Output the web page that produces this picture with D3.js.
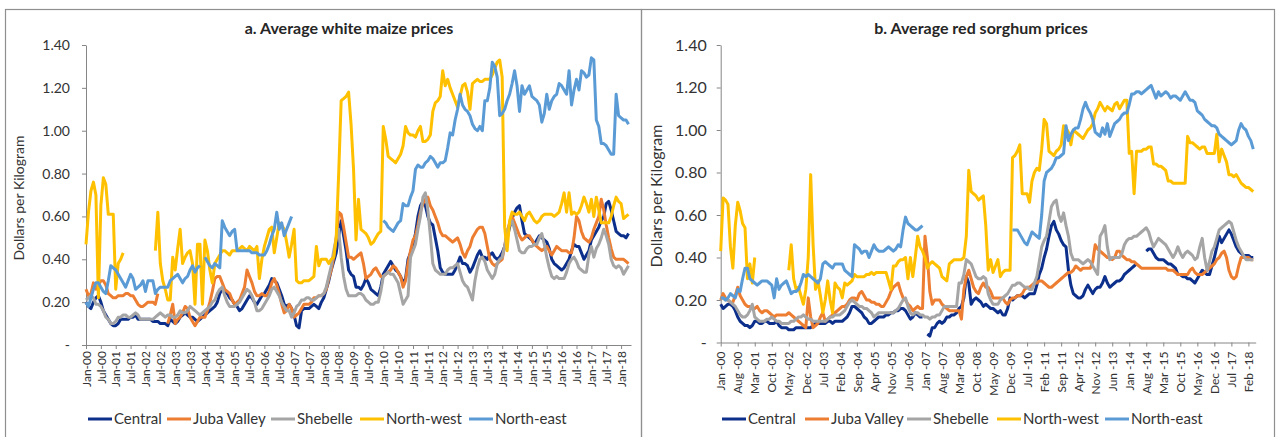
<!DOCTYPE html>
<html>
<head>
<meta charset="utf-8">
<script src="https://cdn.jsdelivr.net/npm/d3@7"></script>
<style>
  body { margin: 0; background: #fff; }
  svg { display: block; font-family: Lato, "Noto Sans", sans-serif; }
</style>
</head>
<body>
<div id="chart"></div>
<script>
// monthly values, Jan 2000 .. Apr 2018 (12 per row), null = no data
var maizeCentral = [
  .20,.18,.17,.20,.22,.23,.20,.16,.14,.12,.10,.09,
  .09,.10,.12,.12,.12,.12,.13,.13,.14,.12,.12,.12,
  .12,.12,.12,.11,.11,.11,.10,.10,.10,.09,.12,.11,
  .10,.11,.13,.14,.15,.14,.13,.13,.12,.11,.12,.13,
  .14,.15,.16,.17,.18,.20,.24,.26,.25,.24,.22,.21,
  .19,.18,.16,.17,.19,.21,.23,.22,.20,.19,.21,.23,
  .24,.26,.28,.31,.30,.29,.26,.23,.19,.18,.19,.17,
  .14,.09,.08,.16,.17,.17,.17,.18,.19,.18,.17,.20,
  .22,.26,.30,.35,.39,.43,.51,.58,.51,.44,.35,.33,
  .32,.27,.27,.26,.28,.31,.29,.26,.25,.24,.23,.27,
  .33,.35,.37,.39,.37,.35,.34,.32,.29,.31,.40,.43,
  .47,.52,.60,.65,.67,.65,.60,.57,.56,.50,.44,.36,
  .34,.33,.33,.33,.33,.35,.38,.41,.38,.38,.37,.34,
  .36,.39,.42,.44,.41,.41,.40,.42,.43,.41,.40,.41,
  .43,.46,.50,.55,.59,.62,.64,.65,.58,.52,.51,.50,
  .49,.47,.49,.51,.50,.49,.48,.45,.40,.38,.37,.36,
  .35,.36,.38,.40,.44,.47,.46,.46,.43,.40,.42,.44,
  .49,.51,.53,.55,.58,.60,.66,.67,.63,.58,.53,.52,
  .51,.51,.50,.52
];
var maizeJuba = [
  .26,.23,.24,.29,.26,.28,.30,.30,.28,.24,.23,.22,
  .22,.23,.23,.23,.24,.24,.23,.23,.21,.19,.18,.18,
  .19,.20,.20,.20,.19,.24,null,null,null,.10,.14,.19,
  .10,.12,.13,.15,.18,.17,.13,.11,.09,.11,.13,.13,
  .13,.16,.20,.25,.31,.32,.32,.29,.26,.25,.24,.21,
  .19,.20,.21,.24,.27,.35,.32,.29,.25,.23,.23,.24,
  .23,.23,.25,.29,.31,.28,.24,.19,.15,.16,.19,.17,
  .13,.14,.15,.17,.19,.19,.19,.20,.22,.22,.23,.23,
  .24,.26,.31,.35,.41,.50,.62,.61,.55,.48,.41,.41,
  .40,.41,.42,.43,.38,.31,.32,.33,.35,.36,.34,.32,
  .32,.33,.34,.35,.37,.36,.34,.32,.27,.30,.38,.44,
  .49,.51,.56,.62,.66,.68,.69,.65,.63,.60,.57,.53,
  .51,.51,.50,.49,.48,.49,.50,.47,.43,.41,.44,.46,
  .50,.52,.54,.55,.55,.52,.46,.40,.38,.37,.38,.39,
  .40,.46,.53,.57,.60,.57,.54,.51,.49,.50,.51,.51,
  .49,.47,.46,.45,.44,.45,.46,.44,.42,.44,.46,.45,
  .44,.44,.44,.43,.43,.50,.60,.58,.53,.50,.49,.48,
  .50,.54,.57,.60,.68,.63,.56,.50,.45,.41,.40,.40,
  .40,.40,.39,.38
];
var maizeShebelle = [
  .21,.22,.23,.22,.19,.19,.18,.16,.13,.12,.10,.10,
  .11,.13,.13,.14,.14,.13,.13,.14,.15,.14,.12,.12,
  .12,.12,.12,.12,.13,.14,.15,.14,.13,.14,.14,.13,
  .13,.14,.16,.15,.15,.16,.18,.17,.16,.15,.14,.15,
  .16,.17,.18,.20,.21,.24,.26,.27,.23,.20,.18,.18,
  .18,.19,.20,.22,.24,.26,.25,.23,.20,.16,.16,.17,
  .19,.21,.23,.26,.27,.25,.23,.20,.18,.16,.16,.13,
  .15,.18,.19,.21,.21,.22,.22,.21,.21,.22,.23,.23,
  .24,.27,.32,.37,.44,.50,.54,.41,.32,.26,.23,.23,
  .23,.23,.24,.24,.23,.21,.20,.19,.19,.20,.20,.25,
  .32,.33,.34,.33,.33,.31,.29,.24,.19,.21,.23,.41,
  .44,.47,.54,.60,.69,.71,.63,.51,.38,.35,.34,.33,
  .33,.33,.35,.36,.36,.37,.38,.34,.30,.28,.27,.24,
  .21,.30,.36,.40,.41,.39,.35,.33,.31,.33,.38,.40,
  .41,.46,.53,.56,.58,.54,.49,.44,.43,.43,.45,.46,
  .46,.47,.47,.50,.52,.47,.41,.36,.32,.31,.32,.31,
  .31,.31,.34,.38,.40,.41,.39,.36,.35,.34,.34,.42,
  .46,.41,.45,.47,.50,.54,.51,.47,.40,.37,.36,.37,
  .36,.33,.35,.37
];
var maizeNorthWest = [
  .47,.62,.72,.76,.70,.22,.65,.78,.75,.61,.61,.61,
  .26,.38,.40,.43,null,null,null,null,null,null,null,null,
  null,null,null,null,.44,.62,.38,.30,.26,.21,.21,.41,
  .35,.45,.54,.38,.41,.43,.44,.38,.19,.47,.47,.19,
  .49,.44,.35,.29,.38,.40,.42,.44,.44,.43,.42,.44,
  .44,.44,.45,.46,.45,.44,.46,.45,.44,.46,.31,.40,
  .46,.50,.54,.55,.43,.50,.57,.56,.54,.48,.41,.47,
  .54,.30,.29,.29,.30,.30,.30,.31,.32,.46,.37,.40,
  .40,.40,.38,.40,.41,.50,.80,1.14,1.15,1.16,1.18,1.03,
  .82,.49,.68,.54,.53,.52,.50,.47,.48,.50,.52,.53,
  1.02,.96,.88,.87,.86,.85,.87,.89,.93,1.02,.99,.98,
  .98,.97,1.00,1.02,.95,.95,.96,.98,1.09,1.13,1.14,1.16,
  1.28,1.21,1.24,1.20,1.17,1.14,1.11,1.16,1.21,1.22,1.18,1.10,
  1.22,1.23,1.24,1.23,1.23,1.24,1.24,1.24,1.26,1.29,1.32,1.33,
  1.25,.55,.44,.58,.62,.61,.61,.62,.60,.58,.61,.62,
  .60,.58,.57,.58,.60,.61,.61,.61,.61,.60,.61,.62,
  .66,.71,.62,.71,.61,.62,.61,.62,.65,.69,.66,.62,
  .68,.60,.69,.63,.57,.57,.57,.57,.60,.65,.69,.67,
  .66,.59,.60,.61
];
var maizeNorthEast = [
  .20,.18,.22,.26,.29,.29,.27,.25,.24,.30,.37,.36,
  .35,.33,.31,.29,.27,.30,.33,.31,.26,.27,.28,.30,
  .25,.30,.30,.30,.24,.26,.27,.27,.27,.27,.30,.31,
  .32,.33,.31,.29,.31,.32,.35,.37,.34,.36,.37,null,
  .41,.39,.37,.36,.38,.37,.36,.58,.55,.53,.51,.53,
  .54,.44,.44,.44,.44,.44,.44,.43,.43,.43,.42,.42,
  .42,.44,.47,.51,.54,.62,.54,.57,.51,.54,.57,.60,
  null,null,null,null,null,null,null,null,null,null,null,null,
  null,null,null,null,null,null,null,null,null,null,null,null,
  null,null,null,null,null,null,null,null,null,null,null,null,
  .58,.57,.55,.54,.53,.55,.57,.58,.66,.65,.65,.69,
  .72,.82,.84,.83,.83,.85,.86,.88,.87,.85,.83,.85,
  .85,.86,.92,.99,.98,1.05,1.10,1.17,1.12,1.10,1.09,1.07,
  1.03,1.01,1.00,1.02,1.00,1.14,1.14,1.20,1.32,1.30,1.25,1.07,
  1.08,1.10,1.14,1.17,1.22,1.28,1.21,1.09,1.21,1.17,1.19,1.21,
  1.16,1.15,1.14,1.12,1.04,1.08,1.17,1.10,1.14,1.16,1.17,1.22,
  1.21,1.19,1.17,1.28,1.12,1.19,1.24,1.19,1.28,1.27,1.25,1.26,
  1.34,1.33,1.05,1.02,.94,.94,.93,.91,.89,.89,1.17,1.07,
  1.06,1.05,1.05,1.03
];

var sorghumCentral = [
  .18,.16,.17,.18,.18,.17,.15,.12,.10,.09,.08,.08,
  .07,.08,.10,.10,.09,.09,.10,.10,.09,.09,.09,.10,
  .08,.07,.07,.07,.06,.06,.06,.07,.07,.07,.07,.07,
  .07,.07,.08,.09,.09,.09,.09,.09,.10,.10,.09,.10,
  .10,.10,.10,.11,.12,.14,.17,.17,.16,.15,.14,.12,
  .11,.09,.09,.10,.11,.12,.12,.12,.13,.13,.14,.14,
  .15,.15,.16,.16,.15,.13,.11,.12,.14,.13,.12,.12,
  null,.04,.03,.07,.07,.09,.10,.09,.10,.12,.12,.13,
  .13,.14,.16,.17,.21,.31,.28,.18,.20,.21,.20,.19,
  .17,.18,.17,.16,.16,.15,.14,.15,.13,.13,.16,.21,
  .20,.21,.22,.22,.22,.21,.22,.23,.23,.23,.27,.32,
  .35,.40,.44,.50,.55,.57,.53,.51,.48,.46,.45,.34,
  .27,.23,.22,.21,.21,.22,.25,.27,.25,.23,.25,.26,
  .26,.28,.31,.28,.26,.27,.28,.29,.29,.30,.32,.33,
  .34,.35,.36,.37,null,null,null,.43,.44,.44,.42,.40,
  .39,.39,.39,.38,.37,.37,.36,.35,.32,.32,.31,.31,
  .30,.30,.29,.28,.30,.32,.34,.33,.32,.32,.36,.40,
  .45,.50,.47,.49,.51,.53,.51,.48,.45,.43,.42,.41,
  .41,.41,.40,.40
];
var sorghumJuba = [
  .20,.23,.21,.20,.19,.19,.22,.26,.22,.20,.18,.17,
  .17,.16,.16,.17,.15,.14,.15,.15,.14,.13,.12,.13,
  .13,.13,.13,.13,.14,.13,.12,.11,.10,.09,.08,.07,
  .21,.12,.07,.08,.09,.12,.14,.10,.11,.12,.13,.14,
  .15,.16,.17,.17,.18,.20,.21,.21,.20,.23,.24,.22,
  .20,.20,.19,.19,.18,.18,.17,.17,.19,.21,.24,.26,
  .27,.28,.24,.21,.20,.18,.17,.15,.16,.17,.16,.16,
  .50,.40,.24,.18,.20,.20,.20,.18,.17,.16,.15,.15,
  .15,.15,.15,.11,.25,.31,.34,.30,.26,.24,.23,.26,
  .28,.26,.26,.24,.21,.21,.21,.21,.21,.19,.18,.20,
  .21,.21,.22,.22,.23,.25,.26,.26,.27,.28,.28,.29,
  .29,.28,.27,.26,.26,.27,.28,.29,.30,.31,.32,.33,
  .33,.34,.36,.35,.34,.35,.35,.35,.35,.38,.46,.44,
  .43,.42,.41,.40,.40,.39,.40,.43,.43,.41,.40,.39,
  .39,.38,.38,.37,.36,.35,.35,.35,.35,.35,.35,.35,
  .35,.35,.35,.35,.34,.34,.34,.33,.32,.32,.32,.32,
  .32,.34,.35,.33,.32,.32,.32,.33,.34,.35,.36,.37,
  .39,.40,.42,.43,.40,.34,.31,.30,.31,.36,.40,.40,
  .40,.40,.39,.39
];
var sorghumShebelle = [
  .21,.21,.20,.20,.19,.18,.17,.15,.13,.12,.12,.13,
  .15,.18,.12,.11,.10,.10,.10,.11,.11,.12,.11,.10,
  .10,.09,.09,.09,.09,.10,.10,.11,.12,.12,.13,.12,
  .11,.11,.10,.10,.10,.10,.10,.10,.11,.12,.12,.13,
  .13,.13,.14,.15,.17,.19,.20,.19,.18,.17,.17,.16,
  .16,.15,.14,.12,.13,.14,.14,.14,.14,.14,.14,.14,
  .15,.16,.18,.20,.21,.17,.14,.13,.14,.14,.13,.13,
  .12,.12,.11,.12,.12,.13,.13,.15,.17,.17,.17,.17,
  .17,.17,.28,.28,.32,.39,.38,.37,.34,.31,.30,.30,
  .31,.30,.23,.20,.18,.18,.18,.20,.21,.22,.23,.25,
  .27,.27,.28,.28,.27,.26,.26,.25,.25,.28,.31,.38,
  .45,.48,.50,.57,.64,.66,.67,.60,.57,.61,.55,.50,
  .42,.39,.39,.39,.38,.37,.38,.39,.38,.36,.34,.32,
  .50,.52,.55,.45,.39,.40,.40,.40,.40,.42,.46,.48,
  .49,.49,.50,.50,.51,.52,.53,.54,.52,.48,.45,.47,
  .49,.48,.47,.46,.44,.42,.40,.42,.45,.42,.40,.42,
  .43,.42,.41,.39,.40,.45,.49,.40,.34,.38,.43,.45,
  .49,.53,.54,.55,.56,.57,.56,.52,.48,.45,.43,.41,
  .39,.39,.39,.39
];
var sorghumNorthWest = [
  .43,.68,.67,.65,.45,.35,.55,.66,.62,.56,.54,.30,
  .37,.28,.40,null,null,null,null,null,null,null,null,null,
  null,null,null,null,.34,.46,.30,.25,.26,.22,.18,.25,
  .40,.79,.46,.25,.29,.22,.14,.20,.29,.20,.14,.28,
  .26,.25,.21,.28,.27,.28,.29,.32,.31,.31,.31,.31,
  .32,.32,.33,.32,.33,.33,.33,.33,.33,.29,.25,.36,
  .36,.38,.39,.39,.40,.30,.40,.31,.40,.50,.45,.43,
  .40,.35,.37,.38,.37,.36,.35,.31,.30,.29,.37,.38,
  .39,.39,.39,.39,.40,.50,.81,.71,.70,.69,.67,.68,
  .69,.55,.34,.39,.33,.36,.39,.31,.33,.34,.34,.34,
  .87,.88,.90,.93,.70,.70,.70,.66,.76,.80,.82,.81,
  .91,1.05,1.03,.90,.89,.88,.90,.91,.93,1.02,1.01,.99,
  .93,1.00,.99,.98,.97,.96,.98,1.00,1.01,1.03,1.08,1.10,
  1.13,1.11,1.09,1.11,1.10,1.09,1.12,1.13,1.10,1.12,1.14,1.14,
  .89,.90,.70,.90,.90,.90,.91,.91,.92,.92,.84,.84,
  .83,.83,.82,.81,.76,.76,.75,.75,.75,.75,.75,.75,
  .97,.94,.94,.93,.92,.91,.92,.92,.89,.89,.89,.89,
  .98,.85,.91,.88,.85,.79,.79,.78,.79,.77,.75,.74,
  .73,.73,.72,.71
];
var sorghumNorthEast = [
  .21,.21,.20,.21,.23,.22,.21,.25,.24,.30,.35,.35,
  .30,.29,.28,.27,.28,.29,.29,.29,.28,.27,.21,.30,
  .25,.27,.28,.29,.26,.23,.24,.24,.25,.28,.32,.31,
  .32,.31,.30,.29,.28,.30,.37,.38,.37,.36,.35,.37,
  .37,.37,.37,.34,.33,.32,.31,.46,.45,.44,.42,.43,
  .43,.40,.43,.46,.44,.43,.43,.43,.44,.45,.44,.43,
  .44,.46,.45,.53,.59,.56,.55,.54,.53,.53,.54,.55,
  null,null,null,null,null,null,null,null,null,null,null,null,
  null,null,null,null,null,null,null,null,null,null,null,null,
  null,null,null,null,null,null,null,null,null,null,null,null,
  .53,.53,.53,.51,.49,.47,.46,.49,.52,.51,.50,.49,
  .60,.76,.80,.81,.82,.84,.87,.87,.88,.89,1.02,.95,
  .98,1.00,1.01,1.01,1.05,1.10,1.13,1.10,1.08,1.05,.99,.98,
  .97,1.01,.98,1.03,.97,1.00,1.03,1.04,1.05,1.07,1.08,1.08,
  1.12,1.17,1.17,1.18,1.18,1.17,1.18,1.19,1.20,1.21,1.18,1.15,
  1.18,1.16,1.17,1.18,1.17,1.15,1.16,1.16,1.15,1.14,1.16,1.18,
  1.16,1.14,1.14,1.13,1.09,1.08,1.07,1.05,1.04,1.03,1.02,1.02,
  1.01,.98,.97,.96,.95,.94,.93,.94,.95,1.00,1.03,1.01,
  1.00,.97,.95,.91
];

var regions = ["Central", "Juba Valley", "Shebelle", "North-west", "North-east"];
var colors = ["#0c2f8c", "#ed7d31", "#a5a5a5", "#ffc000", "#5b9bd5"];
var yTicks = [0, 0.2, 0.4, 0.6, 0.8, 1.0, 1.2, 1.4];

var monthNames = ["Jan","Feb","Mar","Apr","May","Jun","Jul","Aug","Sep","Oct","Nov","Dec"];
function monthLabel(i, sep) {
  var yy = Math.floor(i / 12);
  return monthNames[i % 12] + sep + (yy < 10 ? "0" : "") + yy;
}

var svg = d3.select("#chart").append("svg")
  .attr("width", 1281)
  .attr("height", 437);

// panel frames
svg.append("rect")
  .attr("x", 5.5).attr("y", 9.5).attr("width", 636).attr("height", 440)
  .attr("fill", "none").attr("stroke", "#8f8f8f").attr("stroke-width", 1.2);
svg.append("rect")
  .attr("x", 641.5).attr("y", 9.5).attr("width", 633).attr("height", 440)
  .attr("fill", "none").attr("stroke", "#8f8f8f").attr("stroke-width", 1.2);

function drawPanel(opt) {
  var g = svg.append("g");

  var x = d3.scaleLinear().domain([0, 220]).range([opt.left, opt.right]);
  var y = d3.scaleLinear().domain([0, 1.4]).range([opt.bottom, 45]);

  // title
  g.append("text")
    .attr("x", opt.titleX).attr("y", 34)
    .attr("text-anchor", "middle")
    .attr("font-weight", "bold")
    .attr("font-size", "16px")
    .attr("fill", "#262626")
    .text(opt.title);

  // y axis
  var yAxis = g.append("g")
    .attr("transform", "translate(" + opt.left + ",0)")
    .call(d3.axisLeft(y).tickValues(yTicks).tickSize(4).tickSizeOuter(0)
      .tickFormat(function(d) { return d === 0 ? "-" : d3.format(".2f")(d); }));
  yAxis.select(".domain").attr("stroke", "#868686");
  yAxis.selectAll(".tick line").attr("stroke", "#868686");
  yAxis.selectAll(".tick text")
    .attr("x", -opt.yLabelPad)
    .attr("font-family", "Lato, 'Noto Sans', sans-serif")
    .attr("font-size", opt.yFont + "px")
    .attr("fill", "#333");

  g.append("text")
    .attr("transform", "translate(" + opt.yTitleX + "," + opt.yTitleY + ") rotate(-90)")
    .attr("text-anchor", "middle")
    .attr("font-size", opt.yTitleFont + "px")
    .attr("fill", "#333")
    .text("Dollars per Kilogram");

  // x axis
  var ticks = d3.range(0, 220, opt.step);
  var xAxis = g.append("g")
    .attr("transform", "translate(0," + opt.bottom + ")")
    .call(d3.axisBottom(x).tickValues(ticks).tickSize(4).tickSizeOuter(0)
      .tickFormat(function(d) { return monthLabel(d, opt.sep); }));
  xAxis.select(".domain").attr("stroke", "#868686");
  xAxis.selectAll(".tick line").attr("stroke", "#868686");
  xAxis.selectAll(".tick text")
    .attr("transform", "rotate(-90)")
    .attr("text-anchor", "end")
    .attr("x", -opt.xLabelPad).attr("y", 0).attr("dy", "0.35em")
    .attr("font-family", "Lato, 'Noto Sans', sans-serif")
    .attr("font-size", opt.xFont + "px")
    .attr("fill", "#333");

  // lines
  var line = d3.line()
    .defined(function(d) { return d != null; })
    .x(function(d, i) { return x(i); })
    .y(function(d) { return y(d); });

  opt.series.forEach(function(s, k) {
    g.append("path")
      .datum(s)
      .attr("fill", "none")
      .attr("stroke", colors[k])
      .attr("stroke-width", 3)
      .attr("stroke-linejoin", "round")
      .attr("d", line);
  });

  // legend
  var leg = g.append("g").attr("transform", "translate(0,419)");
  regions.forEach(function(r, k) {
    var lx = opt.legendX[k];
    leg.append("line")
      .attr("x1", lx).attr("x2", lx + 24).attr("y1", 0).attr("y2", 0)
      .attr("stroke", colors[k]).attr("stroke-width", 3);
    leg.append("text")
      .attr("x", lx + 26).attr("y", 0).attr("dy", "0.35em")
      .attr("font-size", "15px")
      .attr("fill", "#333")
      .text(r);
  });
}

drawPanel({
  title: "a. Average white maize prices",
  titleX: 349,
  left: 86, right: 631, bottom: 345,
  step: 6, sep: "-",
  yFont: 14, yLabelPad: 16, xFont: 12, xLabelPad: 6,
  yTitleX: 24, yTitleY: 198, yTitleFont: 14,
  legendX: [88, 167, 271, 360, 469],
  series: [maizeCentral, maizeJuba, maizeShebelle, maizeNorthWest, maizeNorthEast]
});

drawPanel({
  title: "b. Average red sorghum prices",
  titleX: 981,
  left: 720.7, right: 1255.7, bottom: 342.5,
  step: 7, sep: " -",
  yFont: 16, yLabelPad: 14, xFont: 12, xLabelPad: 9,
  yTitleX: 662, yTitleY: 196, yTitleFont: 16,
  legendX: [722, 805, 907, 997, 1105],
  series: [sorghumCentral, sorghumJuba, sorghumShebelle, sorghumNorthWest, sorghumNorthEast]
});
</script>
</body>
</html>
